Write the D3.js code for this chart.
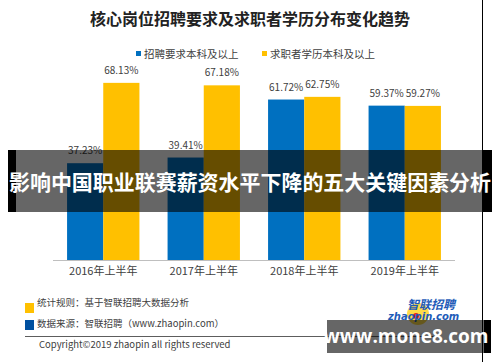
<!DOCTYPE html>
<html>
  <head>
    <meta charset="utf-8">
    <style type="text/css">
      body { margin: 0; background: #fff; }
      * { font-family: "Noto Sans CJK SC", "Noto Sans", sans-serif; }
      text { fill: #404040; }
    </style>
  </head>
  <body>
    <div id="canvas"></div>
    <script type="text/javascript" src="https://cdn.jsdelivr.net/npm/d3@7/dist/d3.min.js"></script>
    <script type="text/javascript">
      // chart data
      var categories = ['2016年上半年', '2017年上半年', '2018年上半年', '2019年上半年'];
      var seriesNames = ['招聘要求本科及以上', '求职者学历本科及以上'];
      var requireValues = [37.23, 39.41, 61.72, 59.37];
      var seekerValues = [68.13, 67.18, 62.75, 59.27];
      var colors = ['#0070C0', '#FFC000'];

      var width = 500, height = 362;

      var svg = d3.select('#canvas').append('svg')
                  .attr('width', width)
                  .attr('height', height);

      svg.append('text')
         .attr('x', 250).attr('y', 25)
         .attr('text-anchor', 'middle')
         .style('font-size', '16px').style('font-weight', 'bold')
         .style('fill', '#222')
         .text('核心岗位招聘要求及求职者学历分布变化趋势');

      // legend
      var legendX = [136, 262];
      seriesNames.forEach(function (name, i) {
        svg.append('rect').attr('x', legendX[i]).attr('y', 51)
           .attr('width', 5).attr('height', 5).attr('fill', colors[i]);
        svg.append('text').attr('x', legendX[i] + 8).attr('y', 57.5)
           .style('font-size', '10.5px').text(name);
      });

      var x0 = d3.scaleBand().domain(categories).range([53, 455]).paddingInner(0.28).paddingOuter(0.14);
      var x1 = d3.scaleBand().domain([0, 1]).range([0, x0.bandwidth()]);
      var y = d3.scaleLinear().domain([0, 100]).range([260, 0]);

      var rows = categories.map(function (c, i) {
        return {cat: c, vals: [requireValues[i], seekerValues[i]]};
      });

      var groups = svg.selectAll('g.grp').data(rows).enter().append('g')
                      .attr('class', 'grp')
                      .attr('transform', function (d) { return 'translate(' + x0(d.cat) + ',0)'; });

      groups.selectAll('rect').data(function (d) { return d.vals; }).enter().append('rect')
            .attr('x', function (d, i) { return x1(i); })
            .attr('y', function (d) { return y(d); })
            .attr('width', x1.bandwidth())
            .attr('height', function (d) { return y(0) - y(d); })
            .attr('fill', function (d, i) { return colors[i]; });

      groups.selectAll('text.val').data(function (d) { return d.vals; }).enter().append('text')
            .attr('class', 'val')
            .attr('x', function (d, i) { return x1(i) + x1.bandwidth() / 2; })
            .attr('y', function (d) { return y(d) - 9; })
            .attr('text-anchor', 'middle')
            .style('font-size', '10px')
            .text(function (d) { return d.toFixed(2) + '%'; });

      var axis = svg.append('g').attr('transform', 'translate(0,260)')
                    .call(d3.axisBottom(x0).tickSize(0).tickPadding(7));
      axis.select('.domain').attr('stroke', '#bfbfbf').attr('d', 'M53,0.5H455');
      axis.selectAll('text').style('font-size', '11px').style('fill', '#404040')
          .style('font-family', '"Noto Sans CJK SC", sans-serif');

      // right border line
      svg.append('line').attr('x1', 482.5).attr('x2', 482.5).attr('y1', 0).attr('y2', height)
         .attr('stroke', '#000').attr('stroke-width', 1);

      // footnotes
      svg.append('rect').attr('x', 25).attr('y', 303).attr('width', 9).attr('height', 10).attr('fill', '#FFC000');
      svg.append('rect').attr('x', 25).attr('y', 320).attr('width', 9).attr('height', 10).attr('fill', '#0050A0');
      svg.append('text').attr('x', 37).attr('y', 306).style('font-size', '9.5px').text('统计规则：基于智联招聘大数据分析');
      svg.append('text').attr('x', 37).attr('y', 327).style('font-size', '9.5px').text('数据来源：智联招聘（www.zhaopin.com）');
      svg.append('line').attr('x1', 25).attr('x2', 440).attr('y1', 336.5).attr('y2', 336.5)
         .attr('stroke', '#333').attr('stroke-width', 0.8);
      svg.append('text').attr('x', 39).attr('y', 347.5).style('font-size', '9.5px')
         .text('Copyright©2019 zhaopin all rights reserved');

      // zhaopin logo
      svg.append('circle').attr('cx', 418).attr('cy', 314).attr('r', 11).attr('fill', '#FFD21A').attr('opacity', 0.8);
      svg.append('circle').attr('cx', 416).attr('cy', 316).attr('r', 3).attr('fill', '#E02020');
      svg.append('text').attr('x', 407).attr('y', 309).style('font-size', '12px').style('font-weight', 'bold')
         .style('font-style', 'italic').style('fill', '#1E5BB8').text('智联招聘');
      svg.append('text').attr('x', 388).attr('y', 320).style('font-size', '10px').style('font-weight', 'bold')
         .style('font-style', 'italic').style('fill', '#1E5BB8')
         .style('font-family', '"DejaVu Sans", sans-serif').text('zhaopin.com');

      // watermark box
      svg.append('rect').attr('x', 327).attr('y', 320).attr('width', 157).attr('height', 33).attr('fill', 'rgba(0,0,0,0.6)');
      svg.append('rect').attr('x', 484).attr('y', 320).attr('width', 7).attr('height', 33).attr('fill', '#000');
      svg.append('text').attr('x', 406).attr('y', 343).attr('text-anchor', 'middle')
         .style('font-size', '19px').style('font-weight', 'bold').style('fill', '#fff')
         .style('font-family', '"Open Sans", "DejaVu Sans", sans-serif')
         .text('www.mone8.com');

      // banner overlay
      svg.append('rect').attr('x', 16).attr('y', 150).attr('width', 467).attr('height', 62).attr('fill', 'rgba(0,0,0,0.6)');
      svg.append('rect').attr('x', 8).attr('y', 150).attr('width', 8).attr('height', 62).attr('fill', '#000');
      svg.append('rect').attr('x', 483).attr('y', 150).attr('width', 9).attr('height', 62).attr('fill', '#000');
      svg.append('text').attr('x', 250).attr('y', 190).attr('text-anchor', 'middle')
         .attr('textLength', 482).attr('lengthAdjust', 'spacingAndGlyphs')
         .style('font-size', '21px').style('font-weight', 'bold').style('fill', '#fff')
         .text('影响中国职业联赛薪资水平下降的五大关键因素分析');
    </script>
  </body>
</html>
